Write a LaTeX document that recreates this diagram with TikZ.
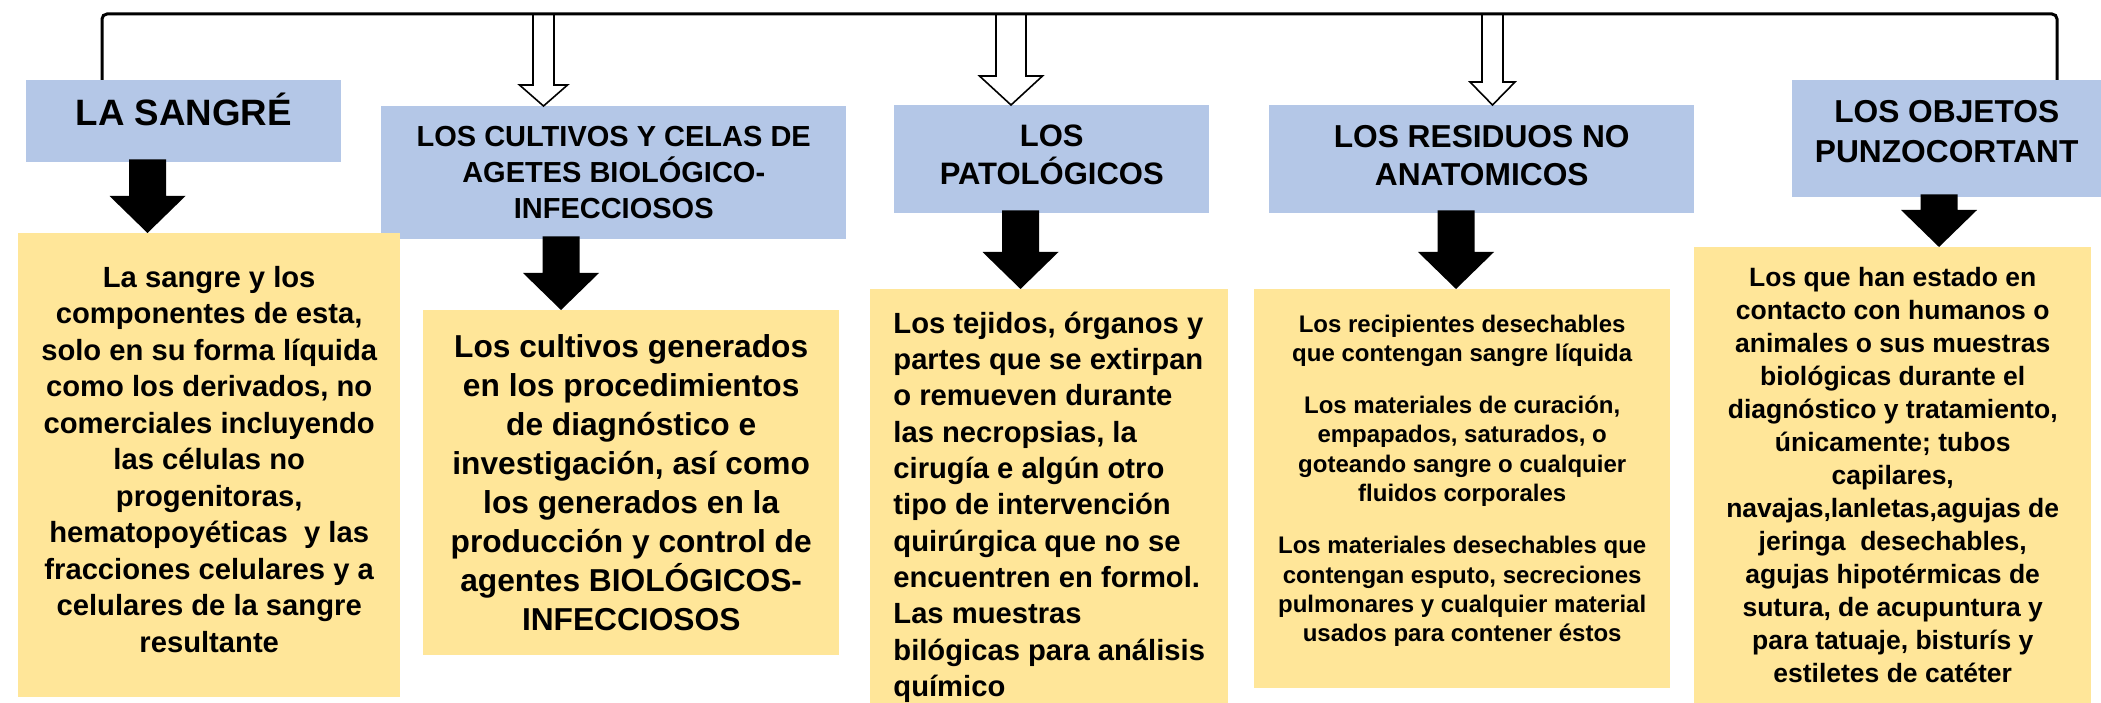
\documentclass[tikz,border=0pt]{standalone}
\usepackage{fontspec}
\setmainfont{Liberation Sans}
\usetikzlibrary{calc}
\definecolor{hdrblue}{HTML}{B4C7E7}
\definecolor{bodyyellow}{HTML}{FFE699}
\newcommand\fsz[2]{\fontsize{#1}{#2}\selectfont\bfseries}
% black block arrow from box #1 to box #2 at x = #3 (px)
\newcommand\blkarrow[3]{%
  \fill[black] let \p1=(#1.south), \p2=(#2.north), \p3=(#3,0) in
    (\x3-18.5pt,\y1+3pt) -- (\x3-18.5pt,\y2+37pt) -- (\x3-38pt,\y2+37pt) --
    (\x3,\y2) -- (\x3+38pt,\y2+37pt) -- (\x3+18.5pt,\y2+37pt) --
    (\x3+18.5pt,\y1+3pt) -- cycle;}
% open arrow from bus coordinate #1 to box #2 at x=#3, shaft half #4, head half #5, head length #6
\newcommand\openarrow[6]{%
  \filldraw[openarr] let \p1=(#1), \p2=(#2.north), \p3=(#3,0) in
    (\x3-#4pt,\y1) -- (\x3-#4pt,\y2+#6pt) -- (\x3-#5pt,\y2+#6pt) --
    (\x3,\y2) -- (\x3+#5pt,\y2+#6pt) -- (\x3+#4pt,\y2+#6pt) -- (\x3+#4pt,\y1);}
\tikzset{
  hdr/.style={fill=hdrblue, draw=none, inner sep=0pt, anchor=north west},
  bodybox/.style={fill=bodyyellow, draw=none, inner sep=0pt, anchor=north west},
  txt/.style={inner sep=0pt, align=center, text=black},
  openarr/.style={draw=black, fill=white, line width=1.6pt, line join=miter},
  busline/.style={draw=black, line width=3pt, rounded corners=5pt},
}
\begin{document}
\begin{tikzpicture}[x=1pt,y=-1pt]
\useasboundingbox[fill=white] (0,0) rectangle (2101,703);

% header boxes
\node[hdr, minimum width=315, minimum height=82] (sangre) at (26,80) {};
\node[hdr, minimum width=465, minimum height=133] (cultivos) at (381,106) {};
\node[hdr, minimum width=315, minimum height=108] (patol) at (894,105) {};
\node[hdr, minimum width=425, minimum height=108] (resid) at (1269,105) {};
\node[hdr, minimum width=309, minimum height=117] (objetos) at (1792,80) {};

\node[txt, font=\fsz{36.7}{44}] (tsangre) at ($(sangre.center)+(0,-12)$) {LA SANGRÉ};
\node[txt, font=\fsz{29}{36}] (tcultivos) at (cultivos.center)
  {LOS CULTIVOS Y CELAS DE\\AGETES BIOLÓGICO-\\INFECCIOSOS};
\node[txt, font=\fsz{31}{38}] (tpatol) at ($(patol.center)+(0,-4)$) {LOS\\PATOLÓGICOS};
\node[txt, font=\fsz{31.7}{38}] (tresid) at ($(resid.center)+(0,-4)$) {LOS RESIDUOS NO\\ANATOMICOS};
\node[txt, font=\fsz{31.7}{40}] (tobjetos) at ($(objetos.center)+(0,-7)$) {LOS OBJETOS\\PUNZOCORTANT};

% body boxes
\node[bodybox, minimum width=382, minimum height=464] (b1) at (18,233) {};
\node[bodybox, minimum width=416, minimum height=345] (b2) at (423,310) {};
\node[bodybox, minimum width=358, minimum height=414] (b3) at (870,289) {};
\node[bodybox, minimum width=416, minimum height=399] (b4) at (1254,289) {};
\node[bodybox, minimum width=397, minimum height=456] (b5) at (1694,247) {};

\node[txt, font=\fsz{29.2}{36.5}] (t1) at ($(b1.center)+(0,-6)$)
  {La sangre y los\\componentes de esta,\\solo en su forma líquida\\como los derivados, no\\comerciales incluyendo\\las células no\\progenitoras,\\hematopoyéticas\ \ y las\\fracciones celulares y a\\celulares de la sangre\\resultante};
\node[txt, font=\fsz{31.7}{39}] (t2) at (b2.center)
  {Los cultivos generados\\en los procedimientos\\de diagnóstico e\\investigación, así como\\los generados en la\\producción y control de\\agentes BIOLÓGICOS-\\INFECCIOSOS};
\node[txt, align=left, font=\fsz{29.2}{36.3}] (t3) at ($(b3.center)+(0,11)$)
  {Los tejidos, órganos y\\partes que se extirpan\\o remueven durante\\las necropsias, la\\cirugía e algún otro\\tipo de intervención\\quirúrgica que no se\\encuentren en formol.\\Las muestras\\bilógicas para análisis\\químico};
\node[txt, font=\fsz{24}{29.3}] (t4) at ($(b4.center)+(0,-8)$)
  {Los recipientes desechables\\que contengan sangre líquida\\[23pt]Los materiales de curación,\\empapados, saturados, o\\goteando sangre o cualquier\\fluidos corporales\\[23pt]Los materiales desechables que\\contengan esputo, secreciones\\pulmonares y cualquier material\\usados para contener éstos};
\node[txt, font=\fsz{26.5}{33}] (t5) at (b5.center)
  {Los que han estado en\\contacto con humanos o\\animales o sus muestras\\biológicas durante el\\diagnóstico y tratamiento,\\únicamente; tubos\\capilares,\\navajas,lanletas,agujas de\\jeringa\ \ desechables,\\agujas hipotérmicas de\\sutura, de acupuntura y\\para tatuaje, bisturís y\\estiletes de catéter};

% black arrows
\blkarrow{sangre}{b1}{147.5}
\blkarrow{cultivos}{b2}{561}
\blkarrow{patol}{b3}{1020.5}
\blkarrow{resid}{b4}{1456}
\blkarrow{objetos}{b5}{1939}

% bus line and open arrows
\coordinate (busL) at (102,14);
\coordinate (busR) at (2057,14);
\openarrow{busL}{cultivos}{543.5}{10.5}{24}{21}
\openarrow{busL}{patol}{1011}{15}{31.5}{29}
\openarrow{busL}{resid}{1492.5}{10.5}{22.5}{23}
\draw[busline] (sangre.north -| busL) -- (busL) -- (busR) -- (objetos.north -| busR);
\end{tikzpicture}
\end{document}
